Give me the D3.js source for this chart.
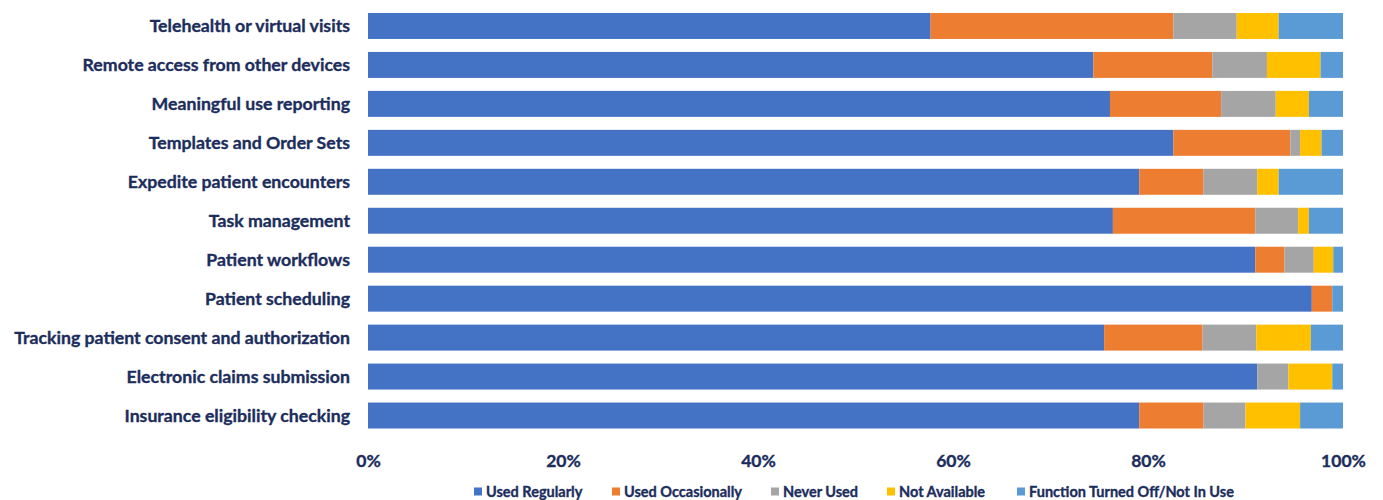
<!DOCTYPE html>
<html>
<head>
<meta charset="utf-8">
<script src="https://cdn.jsdelivr.net/npm/d3@7"></script>
<style>
  html, body { margin: 0; padding: 0; background: #fff; }
  svg { display: block; }
  text { font-family: Lato, "Open Sans", sans-serif; font-weight: bold; fill: #1c2d5c; stroke: #1c2d5c; stroke-width: 0.35px; }
</style>
</head>
<body>
<svg id="chart" width="1383" height="500"></svg>
<script>
// EHR function usage, share of respondents (%)
const categories = [
  "Telehealth or virtual visits",
  "Remote access from other devices",
  "Meaningful use reporting",
  "Templates and Order Sets",
  "Expedite patient encounters",
  "Task management",
  "Patient workflows",
  "Patient scheduling",
  "Tracking patient consent and authorization",
  "Electronic claims submission",
  "Insurance eligibility checking"
];

const seriesNames = [
  "Used Regularly",
  "Used Occasionally",
  "Never Used",
  "Not Available",
  "Function Turned Off/Not In Use"
];

const usedRegularly     = [57.7, 74.4, 76.1, 82.6, 79.1, 76.4, 91.0, 96.8, 75.5, 91.2, 79.1];
const usedOccasionally  = [24.9, 12.2, 11.4, 12.0,  6.6, 14.6,  3.0,  2.1, 10.1,  0.0,  6.6];
const neverUsed         = [ 6.5,  5.6,  5.6,  1.0,  5.5,  4.4,  3.0,  0.0,  5.5,  3.2,  4.3];
const notAvailable      = [ 4.3,  5.5,  3.4,  2.2,  2.2,  1.1,  2.0,  0.0,  5.6,  4.5,  5.6];
const turnedOff         = [ 6.6,  2.3,  3.5,  2.2,  6.6,  3.5,  1.0,  1.1,  3.3,  1.1,  4.4];

const tickValues = [0, 20, 40, 60, 80, 100];

const colors = ["#4472c4", "#ed7d31", "#a5a5a5", "#ffc000", "#5b9bd5"];

const seriesValues = [usedRegularly, usedOccasionally, neverUsed, notAvailable, turnedOff];

// rows for d3.stack, each normalised to 100%
const rows = categories.map((c, i) => {
  const r = { category: c };
  const total = d3.sum(seriesValues, s => s[i]);
  seriesNames.forEach((n, k) => { r[n] = seriesValues[k][i] / total * 100; });
  return r;
});

const stacked = d3.stack().keys(seriesNames)(rows);

const svg = d3.select("#chart");

const x = d3.scaleLinear().domain([0, 100]).range([368, 1343]);
const y = d3.scaleBand()
  .domain(categories)
  .range([6.5, 435])
  .paddingInner(1 / 3)
  .paddingOuter(1 / 6);

const color = d3.scaleOrdinal().domain(seriesNames).range(colors);

// stacked bars
svg.append("g")
  .selectAll("g")
  .data(stacked)
  .join("g")
  .attr("fill", d => color(d.key))
  .selectAll("rect")
  .data(d => d)
  .join("rect")
  .attr("x", d => x(d[0]))
  .attr("y", d => y(d.data.category))
  .attr("width", d => Math.max(0, x(d[1]) - x(d[0])))
  .attr("height", y.bandwidth());

// category axis
const yAxis = d3.axisLeft(y).tickSize(0).tickPadding(0);
const gy = svg.append("g").attr("transform", "translate(350,0)").call(yAxis);
gy.select(".domain").remove();
gy.selectAll("text")
  .attr("font-size", 17.7)
  .attr("dy", "0.36em")
  .style("font-family", "Lato, 'Open Sans', sans-serif")
  .style("font-weight", "bold")
  .attr("fill", "#1c2d5c");

// percentage axis
const xAxis = d3.axisBottom(x)
  .tickValues(tickValues)
  .tickFormat(d => d + "%")
  .tickSize(0)
  .tickPadding(0);
const gx = svg.append("g").attr("transform", "translate(0,467)").call(xAxis);
gx.select(".domain").remove();
gx.selectAll("text")
  .attr("font-size", 17.5)
  .attr("dy", "0")
  .style("font-family", "Lato, 'Open Sans', sans-serif")
  .style("font-weight", "bold")
  .attr("fill", "#1c2d5c");

// legend
const legendX = [474, 612, 771, 887, 1017];
const legend = svg.append("g").attr("transform", "translate(0,492)");
const items = legend.selectAll("g")
  .data(seriesNames)
  .join("g")
  .attr("transform", (d, i) => `translate(${legendX[i]},0)`);
items.append("rect")
  .attr("x", 0).attr("y", -4.5)
  .attr("width", 8).attr("height", 8)
  .attr("fill", d => color(d));
items.append("text")
  .attr("x", 12)
  .attr("dy", "0.35em")
  .attr("font-size", 14.5)
  .text(d => d);
</script>
</body>
</html>
